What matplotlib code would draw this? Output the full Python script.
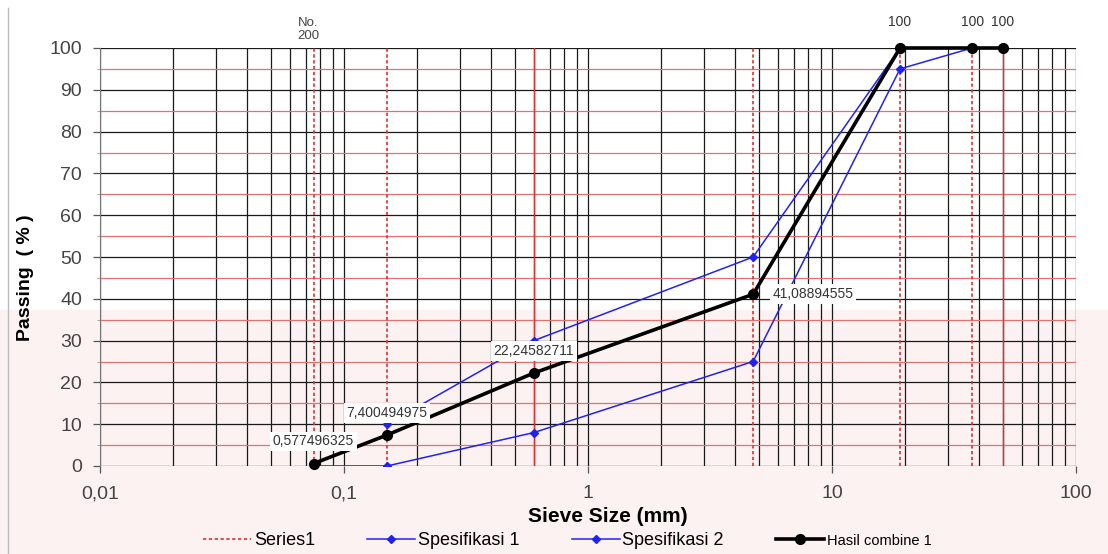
import numpy as np
import matplotlib
matplotlib.use("Agg")
import matplotlib.pyplot as plt
from matplotlib.ticker import LogLocator, FixedLocator, FuncFormatter, NullFormatter
from matplotlib.patches import Rectangle

plt.rcParams['font.family'] = ['Liberation Sans', 'DejaVu Sans']

# sieve marker lines (Series1)
sieve_dashed = [0.075, 0.15, 4.75, 19, 37.5]
sieve_solid = [0.6, 50]

# specification envelopes
spec1_x = [0.15, 0.6, 4.75, 19, 37.5]
spec1_y = [10, 30, 50, 100, 100]
spec2_x = [0.075, 0.15, 0.6, 4.75, 19, 37.5]
spec2_y = [0, 0, 8, 25, 95, 100]

# combined gradation
combine_x = [0.075, 0.15, 0.6, 4.75, 19, 37.5, 50]
combine_y = [0.577496325, 7.400494975, 22.24582711, 41.08894555, 100, 100, 100]

x_ticks = [0.01, 0.1, 1, 10, 100]
x_ticklabels = ['0,01', '0,1', '1', '10', '100']

fig = plt.figure(figsize=(11.08, 5.54), dpi=100)
fig.patch.set_facecolor('white')
# faint watermark tint in lower part
fig.patches.append(Rectangle((0, 0), 1, 0.44, transform=fig.transFigure,
                             color='#fdf2f2', zorder=-10))
fig.add_artist(plt.Line2D([8 / 1108, 8 / 1108], [0, 1 - 8 / 554],
                          transform=fig.transFigure, color='#bbbbbb', lw=1))

ax = fig.add_axes([100 / 1108, 1 - 466 / 554, 976 / 1108, 418 / 554])
ax.set_facecolor('none')
ax.set_xscale('log')
ax.set_xlim(0.01, 100)
ax.set_ylim(0, 100)

ax.xaxis.set_major_locator(FixedLocator(x_ticks))
ax.xaxis.set_major_formatter(FuncFormatter(lambda v, p: x_ticklabels[x_ticks.index(v)] if v in x_ticks else ''))
ax.xaxis.set_minor_locator(LogLocator(base=10, subs=np.arange(2, 10)))
ax.xaxis.set_minor_formatter(NullFormatter())
ax.set_yticks(np.arange(0, 101, 10))
ax.set_yticks(np.arange(5, 100, 10), minor=True)

ax.xaxis.grid(True, which='both', color='#1a1a1a', lw=0.9, zorder=0)
ax.yaxis.grid(True, which='major', color='#1a1a1a', lw=0.9, zorder=0)
ax.yaxis.grid(True, which='minor', color='#e07272', lw=0.9, zorder=0)
ax.set_axisbelow(True)

ax.tick_params(axis='both', which='major', direction='out', length=5, width=0.9,
               color='#555555', labelsize=14, labelcolor='#444444')
ax.tick_params(axis='x', which='major', pad=9)
ax.tick_params(axis='y', which='major', pad=8)
ax.tick_params(axis='x', which='minor', length=0)
ax.tick_params(axis='y', which='minor', length=2, color='#999999')
for s in ['top', 'right', 'bottom']:
    ax.spines[s].set_visible(False)
ax.spines['left'].set_color('#777777')

# Series1 vertical sieve lines
sx, sy = [], []
for v in sieve_dashed:
    sx += [v, v, np.nan]
    sy += [0, 100, np.nan]
ax.plot(sx, sy, color='#e03030', lw=1.2, ls=(0, (2, 1.5)), zorder=2, label='Series1')
for v in sieve_solid:
    ax.plot([v, v], [0, 100], color='#e03030', lw=1.0, zorder=2)

ax.plot(spec1_x, spec1_y, color='#2222ee', lw=1.1, marker='D', ms=4, zorder=3, label='Spesifikasi 1')
ax.plot(spec2_x, spec2_y, color='#2222ee', lw=1.1, marker='D', ms=4, zorder=3, label='Spesifikasi 2')
ax.plot(combine_x, combine_y, color='black', lw=2.6, marker='o', ms=7, zorder=4,
        label='Hasil combine 1', clip_on=False)

# data labels
for i, (x, y) in enumerate(zip(combine_x, combine_y)):
    txt = ('%.9f' % y).rstrip('0').rstrip('.').replace('.', ',') if y != 100 else '100'
    if i == 3:
        ax.annotate(txt, (x, y), xytext=(14, 0), textcoords='offset points', ha='left',
                    va='center', fontsize=10, color='#333333', zorder=5,
                    bbox=dict(boxstyle='square,pad=0.2', fc='white', ec='none'))
    else:
        off = 16 if y < 100 else 19
        ax.annotate(txt, (x, y), xytext=(0, off), textcoords='offset points', ha='center',
                    va='center', fontsize=10, color='#333333', zorder=5, annotation_clip=False,
                    bbox=dict(boxstyle='square,pad=0.2', fc='white', ec='none') if y < 100 else None)

ax.annotate('No.\n200', (0.075, 100), xytext=(-4, 13), textcoords='offset points',
            ha='center', va='center', fontsize=9.5, color='#444444', linespacing=1.1,
            annotation_clip=False)

ax.set_xlabel('Sieve Size (mm)', fontsize=15, fontweight='bold')
ax.xaxis.set_label_coords(0.52, -0.098)
ax.set_ylabel('Passing  ( % )', fontsize=14, fontweight='bold')
ax.yaxis.set_label_coords(-0.068, 0.45)

leg = fig.legend(loc='center', bbox_to_anchor=(0.512, 0.024), ncol=4, frameon=False,
                 fontsize=13, handlelength=2.65, handletextpad=0.15, columnspacing=2.9)
leg.get_texts()[3].set_fontsize(10.5)

fig.savefig('out.png', dpi=100, facecolor=fig.get_facecolor())
